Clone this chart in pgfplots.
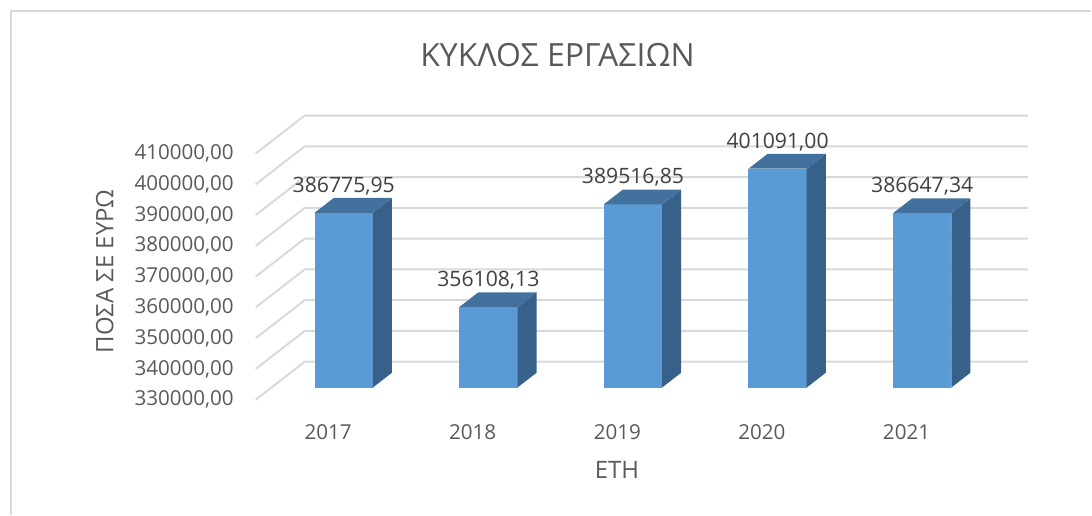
\documentclass[border=0pt]{standalone}
\usepackage{fontspec}
\setmainfont{Open Sans}
\usepackage{pgfplots}
\usepackage{pgfplotstable}
\pgfplotsset{compat=1.18}

\definecolor{barfront}{HTML}{5B9BD5}
\definecolor{bartop}{HTML}{41719C}
\definecolor{barside}{HTML}{386189}
\definecolor{gridc}{HTML}{D9D9D9}
\definecolor{txt}{HTML}{595959}
\definecolor{lbl}{HTML}{404040}

% data
\pgfplotstableread{
year pos value label
2017 0 386775.95 386775,95
2018 1 356108.13 356108,13
2019 2 389516.85 389516,85
2020 3 401091.00 401091,00
2021 4 386647.34 386647,34
}\datatable

% 3d shapes: a = x offset from category, b = 1 if at bar value, c = y offset (depth)
\pgfplotstableread{
a b c
-0.0934 0 3948
0.3100 0 3948
0.3100 1 3948
-0.0934 1 3948
}\frontface
\pgfplotstableread{
a b c
0.3100 0 3948
0.4420 0 8760
0.4420 1 8760
0.3100 1 3948
}\sideface
\pgfplotstableread{
a b c
-0.0934 1 3948
0.3100 1 3948
0.4420 1 8760
0.0386 1 8760
}\topface
\pgfplotstableread{
a c
0 0
0.3385 12338
5.3385 12338
}\gridshape

\begin{document}
\begin{tikzpicture}
\begin{axis}[
  scale only axis,
  width=386.35pt, height=142.2pt,
  xmin=0, xmax=5.3385,
  ymin=330000, ymax=422338,
  clip=false,
  axis line style={draw=none},
  major tick length=0pt,
  xtick={0.5,1.5,2.5,3.5,4.5},
  xticklabels={2017,2018,2019,2020,2021},
  ytick={330000,340000,350000,360000,370000,380000,390000,400000,410000},
  scaled y ticks=false,
  yticklabel={\pgfmathprintnumber[fixed, fixed zerofill, precision=2, use comma, 1000 sep={}, assume math mode=true]{\tick}},
  ticklabel style={font=\fontsize{10.3}{12}\selectfont, text=txt},
  xticklabel style={yshift=-9pt},
  yticklabel style={xshift=-7.5pt},
]
% gridlines on side wall and back wall
\pgfplotsinvokeforeach{33,...,41}{
  \addplot[gridc, line width=1pt, forget plot] table[x=a, y expr=#1*10000+\thisrow{c}] {\gridshape};
}
% bars
\pgfplotsinvokeforeach{0,...,4}{
  \pgfplotstablegetelem{#1}{value}\of\datatable
  \edef\barval{\pgfplotsretval}
  \addplot[fill=barfront, draw=none, forget plot] table[x expr=#1+0.5+\thisrow{a}, y expr=\thisrow{b}*\barval+(1-\thisrow{b})*330000+\thisrow{c}] {\frontface};
  \addplot[fill=barside, draw=none, forget plot] table[x expr=#1+0.5+\thisrow{a}, y expr=\thisrow{b}*\barval+(1-\thisrow{b})*330000+\thisrow{c}] {\sideface};
  \addplot[fill=bartop, draw=none, forget plot] table[x expr=#1+0.5+\thisrow{a}, y expr=\thisrow{b}*\barval+(1-\thisrow{b})*330000+\thisrow{c}] {\topface};
}
% data labels
\addplot[draw=none, mark=none, point meta=explicit symbolic,
  nodes near coords,
  nodes near coords style={anchor=south, yshift=-2pt, font=\fontsize{10.6}{12}\selectfont, text=lbl}]
  table[x expr=\thisrow{pos}+0.6083, y expr=\thisrow{value}+8760, meta=label] {\datatable};

\node[font=\fontsize{16}{19}\selectfont, text=txt] at (rel axis cs:0.3908,1.2131) {ΚΥΚΛΟΣ ΕΡΓΑΣΙΩΝ};
\node[font=\fontsize{12}{14}\selectfont, text=txt] at (rel axis cs:0.4678,-0.2461) {ΕΤΗ};
\node[font=\fontsize{12}{14}\selectfont, text=txt, rotate=90] at (rel axis cs:-0.1954,0.4518) {ΠΟΣΑ ΣΕ ΕΥΡΩ};
% chart frame and page size
\draw[gridc, line width=1pt] (rel axis cs:-0.3171,-0.4044) -- (rel axis cs:-0.3171,1.3678) -- (rel axis cs:1.0819,1.3678);
\path[use as bounding box] (rel axis cs:-0.3313,-0.4044) rectangle (rel axis cs:1.0819,1.4065);
\end{axis}
\end{tikzpicture}
\end{document}
